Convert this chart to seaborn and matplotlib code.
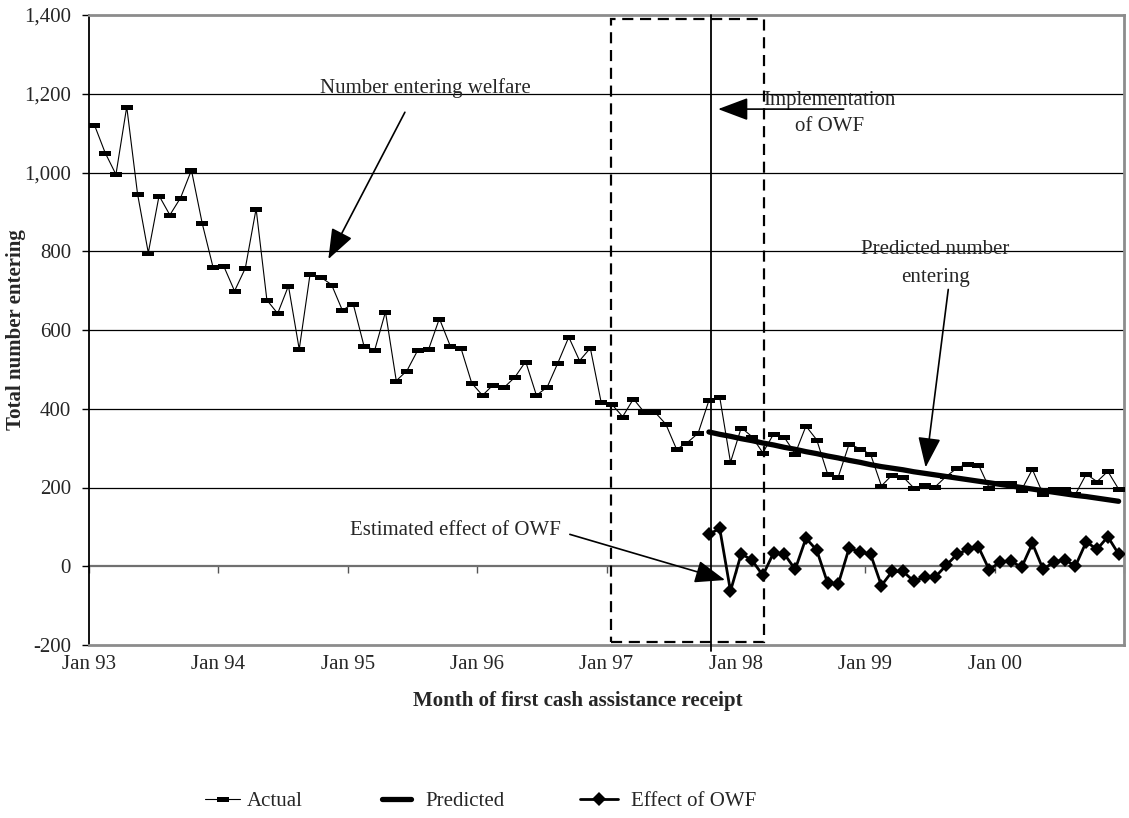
import numpy as np
import pandas as pd
import matplotlib
matplotlib.use("Agg")
import matplotlib.pyplot as plt
import seaborn as sns
from matplotlib.patches import Rectangle
from matplotlib.lines import Line2D

# Monthly entries, Jan 93 .. Dec 00 (96 months)
actual = [1121, 1050, 995, 1167, 946, 796, 941, 892, 936, 1006, 871, 760,
          762, 699, 757, 908, 676, 642, 712, 551, 741, 734, 715, 650,
          667, 560, 549, 646, 471, 497, 549, 551, 629, 560, 554, 465,
          434, 461, 454, 480, 520, 434, 455, 517, 582, 522, 554, 417,
          411, 380, 425, 391, 391, 361, 297, 314, 338, 421, 430, 264,
          352, 329, 288, 336, 327, 286, 356, 321, 235, 227, 310, 299,
          284, 204, 232, 227, 199, 206, 202, 228, 249, 260, 258, 199,
          212, 212, 194, 246, 183, 196, 197, 183, 234, 215, 241, 196]

# predicted entries and estimated effect, from Oct 97 onwards
owf_start = 57
predicted = [341, 335, 330, 324, 319, 313, 308, 302, 297, 291, 286, 280, 275,
             269, 264, 258, 253, 249, 245, 240, 236, 232, 228, 224, 220, 216,
             212, 208, 204, 200, 196, 192, 188, 184, 180, 177, 173, 169, 165]
effect = [81, 96, -63, 32, 15, -23, 34, 31, -8, 71, 41, -42, -45,
          46, 37, 30, -49, -13, -13, -38, -27, -27, 2, 30, 43, 49,
          -9, 11, 14, -3, 58, -8, 11, 16, 1, 62, 43, 75, 31]

tick_labels = ["Jan 93", "Jan 94", "Jan 95", "Jan 96",
               "Jan 97", "Jan 98", "Jan 99", "Jan 00"]

# build the tables (points sit in the middle of each month slot)
df_actual = pd.DataFrame({"month": np.arange(len(actual)), "value": actual})
df_actual["pos"] = df_actual["month"] + 0.5
df_owf = pd.DataFrame({"month": np.arange(owf_start, owf_start + len(predicted)),
                       "predicted": predicted, "effect": effect})
df_owf["pos"] = df_owf["month"] + 0.5

sns.set_style("white")
plt.rcParams["font.family"] = ["Liberation Serif", "DejaVu Serif"]
plt.rcParams["font.size"] = 15

fig = plt.figure(figsize=(11.29, 8.18), dpi=100)
ax = fig.add_axes([89 / 1129, 1 - 645 / 818, 1035 / 1129, 630 / 818])

# gridlines
for v in range(200, 1400, 200):
    ax.axhline(v, color="black", lw=0.9, zorder=1)

rect_marker = [(-1, -0.45), (1, -0.45), (1, 0.45), (-1, 0.45), (-1, -0.45)]

sns.lineplot(data=df_actual, x="pos", y="value", ax=ax, color="black", lw=0.8,
             marker=rect_marker, markersize=8, markeredgewidth=0, zorder=4)
sns.lineplot(data=df_owf, x="pos", y="predicted", ax=ax, color="black", lw=3.8,
             zorder=5)
sns.lineplot(data=df_owf, x="pos", y="effect", ax=ax, color="black", lw=2.0,
             marker="D", markersize=7, markeredgewidth=0, zorder=5)

ax.set_xlim(0, 96)
ax.set_ylim(-200, 1400)
ax.set_xlabel("")
ax.set_ylabel("")
ax.set_yticks(range(-200, 1401, 200))
ax.set_yticklabels([f"{v:,}" for v in range(-200, 1401, 200)])
ax.set_xticks(range(0, 96, 12))
ax.set_xticklabels(tick_labels)
ax.tick_params(axis="x", length=0, pad=7, labelsize=15)
ax.tick_params(axis="y", length=5, width=1, color="black", direction="out",
               pad=8, labelsize=15, left=True)

for side in ["top", "right", "bottom"]:
    ax.spines[side].set_color("#8c8c8c")
    ax.spines[side].set_linewidth(2)
ax.spines["left"].set_color("black")
ax.spines["left"].set_linewidth(1.3)

# category axis drawn along zero
zero_axis = ax.secondary_xaxis((0 + 200) / 1600)
zero_axis.set_xticks(range(0, 97, 12))
zero_axis.set_xticklabels([])
zero_axis.tick_params(direction="out", length=5, width=1, color="#555555")
zero_axis.spines["bottom"].set_color("#707070")
zero_axis.spines["bottom"].set_linewidth(1.6)
zero_axis.spines["top"].set_visible(False)

# dashed box around the implementation period and the implementation line
box = Rectangle((48.4, -193), 62.6 - 48.4, 1389 + 193, fill=False,
                edgecolor="black", lw=1.6, ls=(0, (5, 3)), clip_on=False, zorder=6)
ax.add_patch(box)
ax.axvline(57.7, ymin=-0.01, ymax=1, color="black", lw=1.3, clip_on=False, zorder=6)

arrow = dict(arrowstyle="-|>,head_length=1.25,head_width=0.47",
             mutation_scale=15, color="black", lw=1.2, shrinkA=0, shrinkB=0)

ax.text(31.2, 1215, "Number entering welfare", ha="center", va="center")
ax.annotate("", xy=(22.2, 780), xytext=(29.3, 1153), arrowprops=arrow)

ax.text(68.7, 1150, "Implementation\nof OWF", ha="center", va="center",
        linespacing=1.55)
ax.annotate("", xy=(58.35, 1161), xytext=(70.0, 1161), arrowprops=arrow)

ax.text(78.5, 770, "Predicted number\nentering", ha="center", va="center",
        linespacing=1.65)
ax.annotate("", xy=(77.6, 251), xytext=(79.7, 703), arrowprops=arrow)

ax.text(34.0, 90, "Estimated effect of OWF", ha="center", va="center")
ax.annotate("", xy=(59.0, -35), xytext=(44.6, 81), arrowprops=arrow)

fig.text(16 / 1129, 1 - 330 / 818, "Total number entering", rotation=90,
         ha="center", va="center", fontweight="bold", fontsize=15)
fig.text(578 / 1129, 1 - 701 / 818, "Month of first cash assistance receipt",
         ha="center", va="center", fontweight="bold", fontsize=15)

# legend: three separate entries placed along the bottom
entries = [
    (Line2D([], [], color="black", lw=0.8, marker=rect_marker, markersize=8,
            markeredgewidth=0), "Actual", 205, 1.7, 0.3),
    (Line2D([], [], color="black", lw=3.8), "Predicted", 382, 1.4, 0.7),
    (Line2D([], [], color="black", lw=2.0, marker="D", markersize=7,
            markeredgewidth=0), "Effect of OWF", 580, 1.8, 0.65),
]
for handle, label, x_px, hlen, hpad in entries:
    fig.legend([handle], [label], loc="center left",
               bbox_to_anchor=(x_px / 1129, 1 - 801 / 818), frameon=False,
               borderpad=0, borderaxespad=0, handlelength=hlen,
               handletextpad=hpad, fontsize=15)

fig.savefig("out.png", dpi=100)
